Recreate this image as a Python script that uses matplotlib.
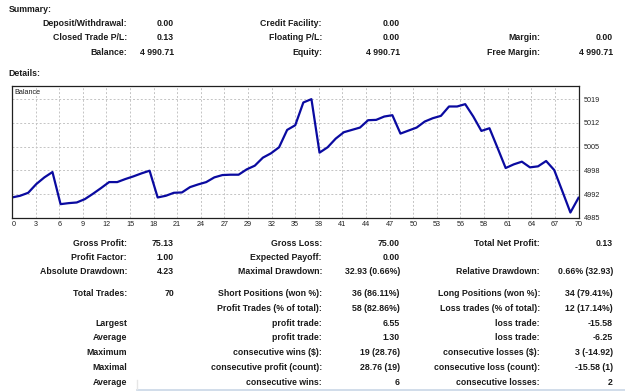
import numpy as np
import matplotlib.pyplot as plt
from matplotlib.lines import Line2D

W, H = 625, 391

plt.rcParams['font.family'] = ['Liberation Sans', 'DejaVu Sans']

# balance after each trade (0 = start)
balance = [
    4991.01, 4991.49, 4992.35, 4994.85, 4996.77, 4998.30, 4989.09, 4989.38, 4989.57, 4990.53,
    4992.06, 4993.70, 4995.42, 4995.42, 4996.29, 4997.06, 4997.92, 4998.69, 4991.01, 4991.49,
    4992.35, 4992.45, 4993.98, 4994.75, 4995.42, 4996.77, 4997.44, 4997.54, 4997.54, 4999.07,
    5000.13, 5002.43, 5003.68, 5005.41, 5010.40, 5011.74, 5018.27, 5019.23, 5003.87, 5005.41,
    5007.90, 5009.73, 5010.40, 5011.07, 5013.18, 5013.28, 5014.24, 5014.62, 5009.34, 5010.21,
    5011.07, 5012.80, 5013.76, 5014.43, 5017.12, 5017.12, 5017.79, 5014.24, 5010.11, 5010.88,
    5005.22, 4999.46, 5000.51, 5001.28, 4999.65, 4999.94, 5001.47, 4998.88, 4992.83, 4986.69,
    4990.91,
]

x_labels = ['0', '3', '6', '9', '12', '15', '18', '21', '24', '27', '29', '32', '35',
            '38', '41', '44', '47', '50', '53', '56', '58', '61', '64', '67', '70']
y_ticks = [4985.2, 4992.0, 4998.8, 5005.6, 5012.4, 5019.2]
y_labels = ['4985', '4992', '4998', '5005', '5012', '5019']

summary_rows = [
    [('Deposit/Withdrawal:', '0.00'), ('Credit Facility:', '0.00'), None],
    [('Closed Trade P/L:', '0.13'), ('Floating P/L:', '0.00'), ('Margin:', '0.00')],
    [('Balance:', '4 990.71'), ('Equity:', '4 990.71'), ('Free Margin:', '4 990.71')],
]

detail_rows = [
    [('Gross Profit:', '75.13'), ('Gross Loss:', '75.00'), ('Total Net Profit:', '0.13')],
    [('Profit Factor:', '1.00'), ('Expected Payoff:', '0.00'), None],
    [('Absolute Drawdown:', '4.23'), ('Maximal Drawdown:', '32.93 (0.66%)'),
     ('Relative Drawdown:', '0.66% (32.93)')],
    [('Total Trades:', '70'), ('Short Positions (won %):', '36 (86.11%)'),
     ('Long Positions (won %):', '34 (79.41%)')],
    [None, ('Profit Trades (% of total):', '58 (82.86%)'),
     ('Loss trades (% of total):', '12 (17.14%)')],
    [('Largest', ''), ('profit trade:', '6.55'), ('loss trade:', '-15.58')],
    [('Average', ''), ('profit trade:', '1.30'), ('loss trade:', '-6.25')],
    [('Maximum', ''), ('consecutive wins ($):', '19 (28.76)'),
     ('consecutive losses ($):', '3 (-14.92)')],
    [('Maximal', ''), ('consecutive profit (count):', '28.76 (19)'),
     ('consecutive loss (count):', '-15.58 (1)')],
    [('Average', ''), ('consecutive wins:', '6'), ('consecutive losses:', '2')],
]

# layout in pixels
label_x = [127, 322, 540]
value_x = [174, 400, 613]
summary_y = [24, 38, 52.3]
detail_y = [243.3, 257.7, 272, 294, 308.3, 323.3, 337.7, 352.7, 367.3, 382.3]
txt_size = 6.3
txt_color = '#1a1a1a'

fig = plt.figure(figsize=(W / 100, H / 100), dpi=100)


def put(x, y, s, ha='right'):
    fig.text(x / W, 1 - y / H, s, ha=ha, va='center', fontsize=txt_size,
             fontweight='bold', color=txt_color)


def put_rows(rows, ys):
    for row, y in zip(rows, ys):
        for col, cell in enumerate(row):
            if cell is None:
                continue
            put(label_x[col], y, cell[0])
            if cell[1]:
                put(value_x[col], y, cell[1])


put(8.8, 9.3, 'Summary:', ha='left')
put_rows(summary_rows, summary_y)
put(8.8, 74, 'Details:', ha='left')
put_rows(detail_rows, detail_y)

# balance chart
ax = fig.add_axes([12 / W, 1 - 217.7 / H, 566.5 / W, 131.7 / H])
ax.plot(range(len(balance)), balance, color='#0a0aa0', lw=1.6)
ax.set_xlim(0, len(balance) - 1)
ax.set_ylim(4985.2, 5023.0)
ax.set_xticks(np.linspace(0, 70, len(x_labels)))
ax.set_xticklabels(x_labels)
ax.get_xticklabels()[0].set_horizontalalignment('left')
ax.yaxis.tick_right()
ax.set_yticks(y_ticks)
ax.set_yticklabels(y_labels)
ax.tick_params(length=0, labelsize=5.2, colors='#202020')
ax.tick_params(axis='x', pad=2.5)
ax.tick_params(axis='y', pad=4)
ax.grid(True, color='#c4c4c4', ls=(0, (2, 2)), lw=0.7)
for sp in ax.spines.values():
    sp.set_color('#202020')
    sp.set_linewidth(0.9)
ax.text(0.005, 0.975, 'Balance', transform=ax.transAxes, fontsize=5.2,
        va='top', ha='left', color='#202020')

# faint edge at the bottom of the page
fig.add_artist(Line2D([137 / W, 1], [1 - 389.5 / H] * 2, color='#c9d7e6', lw=1.2))
fig.add_artist(Line2D([137 / W] * 2, [1 - 380 / H, 1 - 389 / H], color='#e6e6e6', lw=1.0))

fig.savefig('out.png', dpi=100)
